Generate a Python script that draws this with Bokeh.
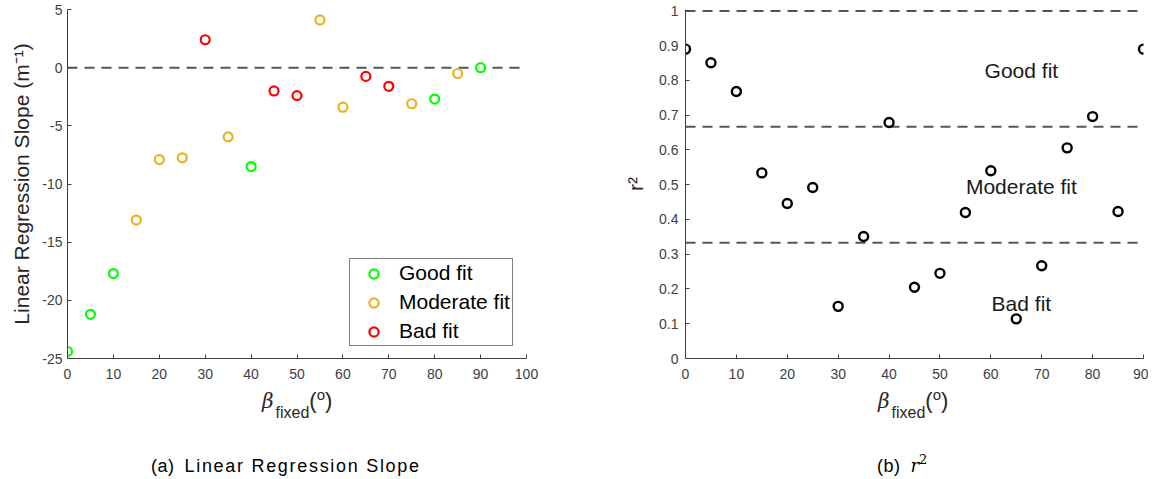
from bokeh.plotting import figure
from bokeh.layouts import row, column
from bokeh.models import Range1d, Legend, LegendItem, PrintfTickFormatter, FixedTicker, Div
from bokeh.embed import file_html
from bokeh.resources import INLINE
from bokeh.core.properties import value

# ---------------- data ----------------
beta_fixed = [0, 5, 10, 15, 20, 25, 30, 35, 40, 45, 50, 55, 60, 65, 70, 75, 80, 85, 90]
slope = [-24.4, -21.2, -17.7, -13.1, -7.9, -7.75, 2.4, -5.95, -8.5, -2.0, -2.4, 4.1,
         -3.4, -0.75, -1.6, -3.1, -2.7, -0.5, 0.0]
fit_class = ["Good fit", "Good fit", "Good fit", "Moderate fit", "Moderate fit", "Moderate fit",
             "Bad fit", "Moderate fit", "Good fit", "Bad fit", "Bad fit", "Moderate fit",
             "Moderate fit", "Bad fit", "Bad fit", "Moderate fit", "Good fit", "Moderate fit",
             "Good fit"]
r2 = [0.89, 0.851, 0.768, 0.534, 0.446, 0.492, 0.150, 0.351, 0.679, 0.205, 0.245, 0.42,
      0.54, 0.114, 0.267, 0.606, 0.696, 0.423, 0.89]

classes = ["Good fit", "Moderate fit", "Bad fit"]
class_colors = ["#00FF00", "#EDB120", "#FF0000"]

slope_ticks_x = [0, 10, 20, 30, 40, 50, 60, 70, 80, 90, 100]
slope_ticks_y = [-25, -20, -15, -10, -5, 0, 5]
r2_ticks_x = [0, 10, 20, 30, 40, 50, 60, 70, 80, 90]
r2_ticks_y = [0, 0.1, 0.2, 0.3, 0.4, 0.5, 0.6, 0.7, 0.8, 0.9, 1]
slope_ref = [0.0]
r2_thresholds = [1.0, 0.667, 0.333]
region_labels = ["Good fit", "Moderate fit", "Bad fit"]
region_x = [66, 66, 66]
region_y = [0.828, 0.494, 0.159]

caption_a = "Linear Regression Slope"

FONT = "Liberation Sans"
AX = "#404040"
W1 = 582
W2 = 566
HF = 385      # figure height
HX = 40       # x-label row
HC = 45       # caption row
TOP = 9
FH = 349


def style(p):
    p.outline_line_color = None
    p.xgrid.visible = False
    p.ygrid.visible = False
    for ax in (p.xaxis[0], p.yaxis[0]):
        ax.axis_line_color = AX
        ax.axis_line_width = 1
        ax.major_tick_line_color = AX
        ax.major_tick_in = 4
        ax.major_tick_out = 0
        ax.minor_tick_line_color = None
        ax.major_label_text_font = FONT
        ax.major_label_text_font_size = "14px"
        ax.major_label_text_color = AX
        ax.axis_label_text_font = FONT
        ax.axis_label_text_font_style = "normal"
        ax.axis_label_text_color = "#262626"
        ax.formatter = PrintfTickFormatter(format="%g")
    p.xaxis.major_label_standoff = 10


# ---------------- (a) slope ----------------
p1 = figure(width=W1, height=HF, output_backend="svg", toolbar_location=None,
            x_range=Range1d(slope_ticks_x[0], slope_ticks_x[-1]),
            y_range=Range1d(slope_ticks_y[0], slope_ticks_y[-1]),
            min_border_left=67, min_border_right=W1 - 67 - 459,
            min_border_top=TOP, min_border_bottom=HF - TOP - FH)
style(p1)
p1.xaxis.ticker = FixedTicker(ticks=slope_ticks_x)
p1.yaxis.ticker = FixedTicker(ticks=slope_ticks_y)
p1.yaxis.major_label_standoff = 5
p1.yaxis.axis_label = "Linear Regression Slope (m⁻¹)"
p1.yaxis.axis_label_text_font_size = "21px"
p1.yaxis.axis_label_standoff = 6

for yv in slope_ref:
    p1.line([slope_ticks_x[0], slope_ticks_x[-1]], [yv, yv], line_color="#555555",
            line_width=2, line_dash="10 7")

items = []
for cls, col in zip(classes, class_colors):
    xs = [b for b, c in zip(beta_fixed, fit_class) if c == cls]
    ys = [s for s, c in zip(slope, fit_class) if c == cls]
    r = p1.scatter(xs, ys, marker="circle", size=9, line_width=2.2,
                   line_color=col, fill_color="white")
    items.append(LegendItem(label=cls, renderers=[r]))

leg = Legend(items=items, location=(282, 12))
leg.label_text_font = FONT
leg.label_text_font_size = "21px"
leg.label_text_color = "#000000"
leg.padding = 2
leg.spacing = 5
leg.glyph_width = 43
leg.glyph_height = 23
leg.label_height = 23
leg.label_standoff = 4
leg.border_line_color = "#000000"
leg.border_line_width = 1
leg.background_fill_color = "white"
leg.background_fill_alpha = 1
leg.margin = 0
p1.add_layout(leg)

# ---------------- (b) r^2 ----------------
p2 = figure(width=W2, height=HF, output_backend="svg", toolbar_location=None,
            x_range=Range1d(r2_ticks_x[0], r2_ticks_x[-1]),
            y_range=Range1d(r2_ticks_y[0], r2_ticks_y[-1] + 0.004),
            min_border_left=103, min_border_right=W2 - 103 - 458,
            min_border_top=TOP, min_border_bottom=HF - TOP - FH)
style(p2)
p2.xaxis.ticker = FixedTicker(ticks=r2_ticks_x)
p2.yaxis.ticker = FixedTicker(ticks=r2_ticks_y)
p2.yaxis.major_label_standoff = 7
p2.yaxis.axis_label = "r²"
p2.yaxis.axis_label_text_font_size = "21px"
p2.yaxis.axis_label_standoff = 9

for t in r2_thresholds:
    p2.line([r2_ticks_x[0], r2_ticks_x[-1]], [t, t], line_color="#555555",
            line_width=2, line_dash="10 7")

p2.scatter(beta_fixed, r2, marker="circle", size=9, line_width=2.4,
           line_color="#000000", fill_color="white")

p2.text(region_x, region_y, text=region_labels, text_align="center",
        text_baseline="middle", text_font=value(FONT), text_font_size="21px",
        text_color="#1a1a1a")

# ---------------- x labels and captions (real HTML text) ----------------
BASE = {"font-family": FONT, "color": "#262626"}


def xlabel_html(left):
    return (f'<div style="margin-left:{left}px;white-space:nowrap;font-size:22px;'
            f'line-height:22px;font-family:{FONT};color:#262626">'
            '<span style="font-family:\'DejaVu Serif\';font-style:italic;font-size:20px">β</span>'
            '<span style="font-size:16px;position:relative;top:10px;margin-left:2px">fixed</span>'
            '<span>(<span style="font-size:15px;position:relative;top:-8px">o</span>)</span>'
            '</div>')


def caption_html(left, tag, body):
    return (f'<div style="margin-left:{left}px;margin-top:14px;white-space:nowrap;'
            f'font-size:18px;line-height:24px;font-family:{FONT};color:#000000">'
            f'<span style="letter-spacing:0.5px">({tag})</span>{body}</div>')


xl1 = Div(text=xlabel_html(257), width=W1, height=HX, styles=BASE)
xl2 = Div(text=xlabel_html(281), width=W2, height=HX, styles=BASE)

cap1 = Div(text=caption_html(146, "a",
                             f'<span style="margin-left:10px;letter-spacing:1.7px">{caption_a}</span>'),
           width=W1, height=HC, styles=BASE)
cap2 = Div(text=caption_html(280, "b",
                             '<span style="margin-left:10px;font-family:\'DejaVu Serif\';'
                             'font-style:italic">r</span>'
                             '<span style="font-family:\'DejaVu Serif\';font-size:13px;'
                             'position:relative;top:-8px">2</span>'),
           width=W2, height=HC, styles=BASE)

layout = column(row(p1, p2), row(xl1, xl2), row(cap1, cap2))
open("out.html", "w").write(file_html(layout, INLINE))
